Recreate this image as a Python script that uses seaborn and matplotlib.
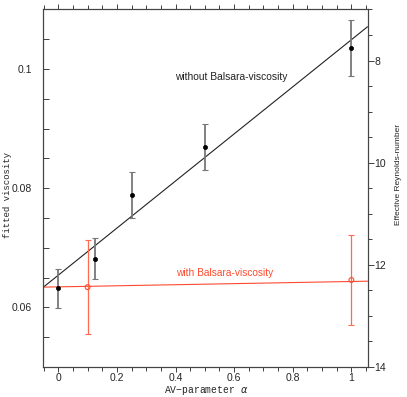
import numpy as np
import pandas as pd
import seaborn as sns
import matplotlib.pyplot as plt
from matplotlib.ticker import MultipleLocator

# data
alpha_plain = [0.0, 0.125, 0.25, 0.5, 1.0]
visc_plain = [0.0632, 0.0682, 0.0789, 0.0869, 0.1036]
err_plain = [0.0033, 0.0034, 0.0039, 0.0038, 0.0047]

alpha_bals = [0.1, 1.0]
visc_bals = [0.0634, 0.0646]
err_bals = [0.0079, 0.0076]

# fitted lines (end points)
fit_x = [-0.052, 1.055]
fit_plain = [0.06335, 0.1071]
fit_bals = [0.0634, 0.0644]

sns.set_style("ticks")
plt.rcParams['font.family'] = ['Liberation Sans', 'DejaVu Sans']

red = '#ff4a2e'
ink = '#222222'

fig = plt.figure(figsize=(4.07, 3.97), dpi=100)
ax = fig.add_axes([0.1057, 0.0756, 0.7973, 0.9005])

fits = pd.DataFrame({'x': fit_x + fit_x,
                     'y': fit_plain + fit_bals,
                     'set': ['plain'] * 2 + ['bals'] * 2})
sns.lineplot(data=fits, x='x', y='y', hue='set',
             palette={'plain': ink, 'bals': red},
             linewidth=0.8, legend=False, ax=ax)

ax.errorbar(alpha_plain, visc_plain, yerr=err_plain, fmt='none',
            ecolor='#777777', elinewidth=1.3, capsize=2.2, capthick=0.8)
ax.errorbar(alpha_bals, visc_bals, yerr=err_bals, fmt='none',
            ecolor='#ff6a50', elinewidth=0.9, capsize=2.2, capthick=0.8)
sns.scatterplot(x=alpha_plain, y=visc_plain, color='black', s=9,
                edgecolor='black', linewidth=0.5, zorder=5, ax=ax)
sns.scatterplot(x=alpha_bals, y=visc_bals, s=12, marker='o',
                facecolor='none', edgecolor=red, linewidth=0.8,
                zorder=5, ax=ax)

ax.set_xlim(-0.052, 1.055)
ax.set_ylim(0.05, 0.11)
ax.set_xticks([0, 0.2, 0.4, 0.6, 0.8, 1])
ax.set_xticklabels(['0', '0.2', '0.4', '0.6', '0.8', '1'])
ax.xaxis.set_minor_locator(MultipleLocator(0.05))
ax.set_yticks([0.06, 0.08, 0.1])
ax.set_yticklabels(['0.06', '0.08', '0.1'])
ax.yaxis.set_minor_locator(MultipleLocator(0.005))

ax.tick_params(axis='x', which='both', direction='out', length=3,
               width=0.6, color=ink, top=True, labelsize=7.5, pad=1)
ax.tick_params(axis='x', which='major', length=3.5)
ax.tick_params(axis='y', which='both', direction='in', length=4.5,
               width=0.6, color=ink, right=False, labelsize=7.5, pad=8)
for sp in ax.spines.values():
    sp.set_color('#444444')
    sp.set_linewidth(0.8)

ax.set_xlabel('AV\u2212parameter $\\alpha$', family='Liberation Mono',
              fontsize=7.0, va='center')
ax.xaxis.set_label_coords(0.503, -0.066)
ax.set_ylabel('fitted viscosity', family='Liberation Mono',
              fontsize=6.5, va='center')
ax.yaxis.set_label_coords(-0.11, 0.48)

ax.text(0.589, 0.0987, 'without Balsara-viscosity', fontsize=7.4,
        color=ink, ha='center', va='center')
ax.text(0.566, 0.0658, 'with Balsara-viscosity', fontsize=7.3,
        color=red, ha='center', va='center')

# effective Reynolds number on the right
ax2 = ax.twinx()
ax2.set_ylim(14, 7)
ax2.set_yticks([8, 10, 12, 14])
ax2.yaxis.set_minor_locator(MultipleLocator(0.5))
ax2.tick_params(axis='y', which='both', direction='out', length=3,
                width=0.6, color=ink, labelsize=7.5, pad=0.5)
ax2.tick_params(axis='y', which='major', length=4.5)
for sp in ax2.spines.values():
    sp.set_color('#444444')
    sp.set_linewidth(0.8)
ax2.set_ylabel('Effective Reynolds-number', fontsize=6.0, va='center')
ax2.yaxis.set_label_coords(1.097, 0.54)

fig.savefig('out.png', dpi=100)
